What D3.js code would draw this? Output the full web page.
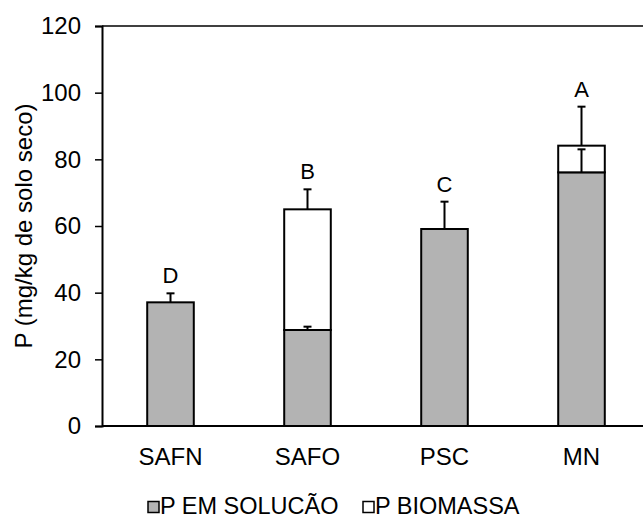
<!DOCTYPE html>
<html>
<head>
<meta charset="utf-8">
<script src="https://cdn.jsdelivr.net/npm/d3@7"></script>
<style>
  html, body { margin: 0; padding: 0; background: #fff; }
  svg { display: block; font-family: "Liberation Sans", Arial, sans-serif; }
</style>
</head>
<body>
<div id="chart"></div>
<script>
const W = 643, H = 517;
const M = { left: 102, top: 26, right: 102 + 548, bottom: 426 };

const categories = ['SAFN', 'SAFO', 'PSC', 'MN'];
const solucao    = [37.1, 28.8, 59.1, 76.1];
const solucaoErr = [2.7, 1.0, 8.2, 6.9];
const biomassa   = [0, 36.2, 0, 8.0];
const biomassaErr = [0, 6.0, 0, 11.7];
const letters    = ['D', 'B', 'C', 'A'];
const yTicks     = [0, 20, 40, 60, 80, 100, 120];
const legendLabels = ['P EM SOLUCÃO', 'P BIOMASSA'];

const GREY = '#b3b3b3';

const svg = d3.select('#chart').append('svg')
  .attr('width', W).attr('height', H);

const x = d3.scaleBand()
  .domain(categories)
  .range([M.left, M.right])
  .paddingInner(0.66)
  .paddingOuter(0.33);

const y = d3.scaleLinear().domain([0, 120]).range([M.bottom, M.top]);

const rows = categories.map((c, i) => ({
  c, sol: solucao[i], solErr: solucaoErr[i],
  bio: biomassa[i], bioErr: biomassaErr[i], letter: letters[i]
}));

// top frame line
svg.append('line')
  .attr('x1', M.left).attr('x2', M.right)
  .attr('y1', y(120)).attr('y2', y(120))
  .attr('stroke', '#000').attr('stroke-width', 1.5);

// bars: solution part
svg.append('g').selectAll('rect')
  .data(rows).join('rect')
  .attr('x', d => x(d.c))
  .attr('y', d => y(d.sol))
  .attr('width', x.bandwidth())
  .attr('height', d => y(0) - y(d.sol))
  .attr('fill', GREY)
  .attr('stroke', '#000').attr('stroke-width', 2);

// bars: biomass part stacked on top
svg.append('g').selectAll('rect')
  .data(rows.filter(d => d.bio > 0)).join('rect')
  .attr('x', d => x(d.c))
  .attr('y', d => y(d.sol + d.bio))
  .attr('width', x.bandwidth())
  .attr('height', d => y(d.sol) - y(d.sol + d.bio))
  .attr('fill', '#fff')
  .attr('stroke', '#000').attr('stroke-width', 2);

// error bars
function errBar(g, cx, v0, v1) {
  g.append('line').attr('x1', cx).attr('x2', cx)
    .attr('y1', y(v0)).attr('y2', y(v1))
    .attr('stroke', '#000').attr('stroke-width', 2);
  g.append('line').attr('x1', cx - 4).attr('x2', cx + 4)
    .attr('y1', y(v1)).attr('y2', y(v1))
    .attr('stroke', '#000').attr('stroke-width', 2);
}
const eg = svg.append('g');
rows.forEach(d => {
  const cx = x(d.c) + x.bandwidth() / 2;
  errBar(eg, cx, d.sol, d.sol + d.solErr);
  if (d.bio > 0) errBar(eg, cx, d.sol + d.bio, d.sol + d.bio + d.bioErr);
});

// significance letters
svg.append('g').selectAll('text')
  .data(rows).join('text')
  .attr('x', d => x(d.c) + x.bandwidth() / 2)
  .attr('y', d => y(Math.max(d.sol + d.solErr, d.bio > 0 ? d.sol + d.bio + d.bioErr : 0)) - 10)
  .attr('text-anchor', 'middle')
  .attr('font-size', 22)
  .attr('fill', '#000')
  .text(d => d.letter);

// y axis
const yAxis = svg.append('g')
  .attr('transform', `translate(${M.left},0)`)
  .call(d3.axisLeft(y).tickValues(yTicks).tickSize(7).tickPadding(14));
yAxis.select('.domain').attr('stroke', '#000').attr('stroke-width', 2);
yAxis.selectAll('.tick line').attr('stroke', '#000').attr('stroke-width', 1.5);
yAxis.selectAll('.tick text')
  .attr('font-size', 24).attr('font-family', '"Liberation Sans", Arial, sans-serif')
  .attr('fill', '#000');

// x axis baseline
svg.append('line')
  .attr('x1', M.left).attr('x2', M.right)
  .attr('y1', y(0)).attr('y2', y(0))
  .attr('stroke', '#000').attr('stroke-width', 2);

// category labels
svg.append('g').selectAll('text')
  .data(categories).join('text')
  .attr('x', d => x(d) + x.bandwidth() / 2)
  .attr('y', 465)
  .attr('text-anchor', 'middle')
  .attr('font-size', 24)
  .attr('fill', '#000')
  .text(d => d);

// y label
svg.append('text')
  .attr('transform', 'translate(32,226) rotate(-90)')
  .attr('text-anchor', 'middle')
  .attr('font-size', 24)
  .attr('fill', '#000')
  .text('P (mg/kg de solo seco)');

// legend
const legX = [148, 363];
const legFill = [GREY, '#fff'];
const lg = svg.append('g');
legendLabels.forEach((t, i) => {
  lg.append('rect')
    .attr('x', legX[i]).attr('y', 501.5)
    .attr('width', 11).attr('height', 11)
    .attr('fill', legFill[i])
    .attr('stroke', '#000').attr('stroke-width', 1.5);
  lg.append('text')
    .attr('x', legX[i] + 12).attr('y', 514)
    .attr('font-size', 23.5)
    .attr('fill', '#000')
    .text(t);
});
</script>
</body>
</html>
